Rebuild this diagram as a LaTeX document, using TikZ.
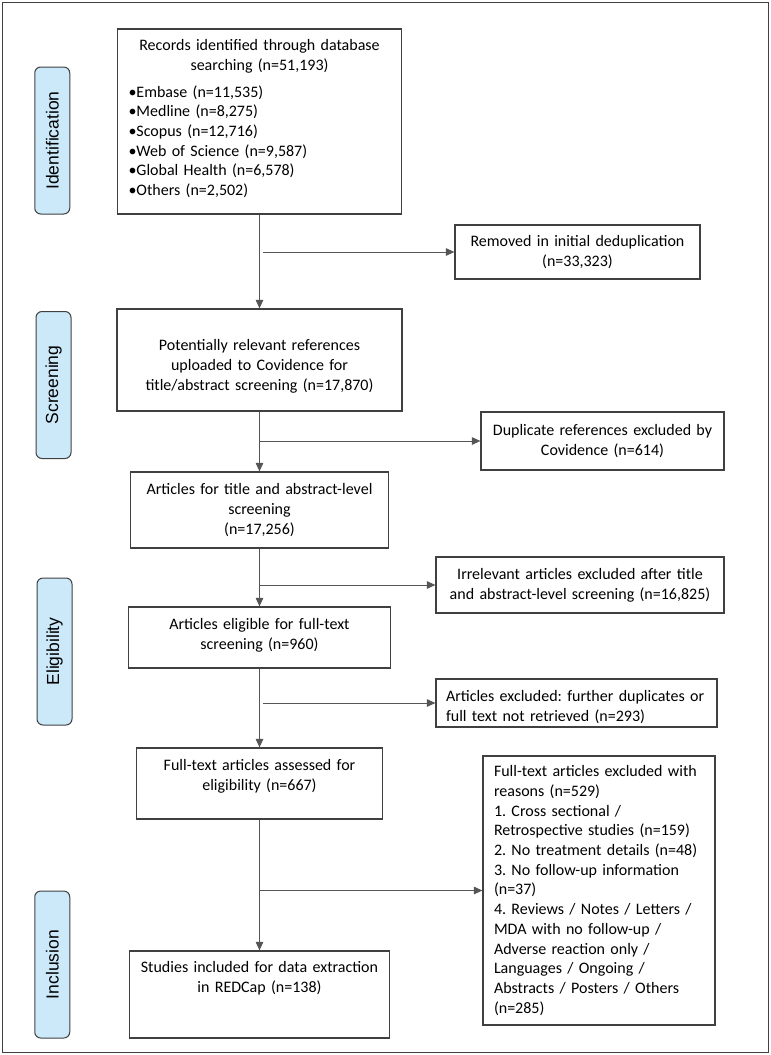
\documentclass[tikz,border=0pt]{standalone}
\usepackage{fontspec}
\setmainfont{Carlito}
\newfontfamily\stagefont{Liberation Sans}
\usetikzlibrary{arrows.meta}
\definecolor{stagefill}{HTML}{CCE9FA}
\definecolor{edgecol}{HTML}{404040}
\definecolor{conncol}{HTML}{555555}
\frenchspacing
\begin{document}
\begin{tikzpicture}[x=1pt,y=-1pt,
  box/.style={draw=edgecol, line width=1.2pt, inner sep=0pt, align=center,
    font=\fontsize{16}{19.7}\selectfont},
  lbox/.style={box, align=left},
  stage/.style={draw=edgecol, line width=1pt, fill=stagefill, rounded corners=6pt,
    inner sep=0pt, rotate=90, minimum width=147pt, minimum height=35pt,
    font=\stagefont\fontsize{17.5}{20}\selectfont},
  arr/.style={draw=conncol, line width=1pt, -{Triangle[length=8.5pt,width=7.5pt]}},
]
\useasboundingbox (0,0) rectangle (771,1055);
\draw[edgecol, line width=1pt] (2,2) rectangle (768.5,1052);

% stage labels
\node[stage] (sIde) at (52.25,140.5) {Identification};
\node[stage] (sScr) at (53.5,385) {Screening};
\node[stage] (sEli) at (54.5,651.5) {Eligibility};
\node[stage] (sInc) at (52.25,964.5) {Inclusion};

% main column
\node[box, minimum width=284pt, minimum height=185pt, text width=262pt] (rec) at (259.5,121.5)
 {Records identified through database\\ searching (n=51,193)\\[7pt]
  \makebox[262pt][l]{•Embase (n=11,535)}\\
  \makebox[262pt][l]{•Medline (n=8,275)}\\
  \makebox[262pt][l]{•Scopus (n=12,716)}\\
  \makebox[262pt][l]{•Web of Science (n=9,587)}\\
  \makebox[262pt][l]{•Global Health (n=6,578)}\\
  \makebox[262pt][l]{•Others (n=2,502)}\\[-12pt]\mbox{}};
\node[box, minimum width=285pt, minimum height=102pt, text width=277pt] (pot) at (259.5,360)
 {\mbox{}\\[4.3pt]Potentially relevant references\\ uploaded to Covidence for\\ title/abstract screening (n=17,870)};
\node[box, minimum width=257.5pt, minimum height=76pt, text width=250pt] (art) at (259.5,510)
 {Articles for title and abstract-level\\ screening\\ (n=17,256)};
\node[box, minimum width=261.5pt, minimum height=61pt, text width=254pt] (eli) at (259.5,637.5)
 {Articles eligible for full-text\\ screening (n=960)\\[-12pt]\mbox{}};
\node[box, minimum width=246.5pt, minimum height=71pt, text width=240pt] (ful) at (259.5,783.5)
 {Full-text articles assessed for\\ eligibility (n=667)\\[-3pt]\mbox{}};
\node[box, minimum width=259.5pt, minimum height=87pt, text width=252pt] (stu) at (259.5,994.5)
 {Studies included for data extraction\\ in REDCap (n=138)\\[15pt]\mbox{}};

% side boxes
\node[box, minimum width=245pt, minimum height=54pt, text width=238pt] (rem) at (577.5,252)
 {Removed in initial deduplication\\ (n=33,323)};
\node[box, minimum width=243pt, minimum height=58pt, text width=236pt] (dup) at (602.5,441)
 {Duplicate references excluded by\\ Covidence (n=614)};
\node[box, minimum width=288pt, minimum height=56pt, text width=282pt] (irr) at (580,585)
 {Irrelevant articles excluded after title\\ and abstract-level screening (n=16,825)};
\node[lbox, minimum width=281pt, minimum height=48pt, text width=261pt] (exc) at (576.5,703)
 {\mbox{}\\Articles excluded: further duplicates or\\ full text not retrieved (n=293)};
\node[lbox, minimum width=232pt, minimum height=269pt, text width=210pt] (fex) at (599,890.5)
 {Full-text articles excluded with\\ reasons (n=529)\\ 1. Cross sectional /\\ Retrospective studies (n=159)\\
  2. No treatment details (n=48)\\ 3. No follow-up information\\ (n=37)\\ 4. Reviews / Notes / Letters /\\
  MDA with no follow-up /\\ Adverse reaction only /\\ Languages / Ongoing /\\ Abstracts / Posters / Others\\ (n=285)};

% vertical flow
\draw[arr] (rec.south) -- (pot.north);
\draw[arr] (pot.south) -- (art.north);
\draw[arr] (art.south) -- (eli.north);
\draw[arr] (eli.south) -- (ful.north);
\draw[arr] (ful.south) -- (stu.north);

% branches
\coordinate (b1) at (263,252);
\coordinate (b2) at (259.5,441);
\coordinate (b3) at (259.5,585);
\coordinate (b4) at (263,703);
\coordinate (b5) at (259.5,890.5);
\draw[arr] (b1) -- (rem.west);
\draw[arr] (b2) -- (dup.west);
\draw[arr] (b3) -- (irr.west);
\draw[arr] (b4) -- (exc.west);
\draw[arr] (b5) -- (fex.west);
\end{tikzpicture}
\end{document}
